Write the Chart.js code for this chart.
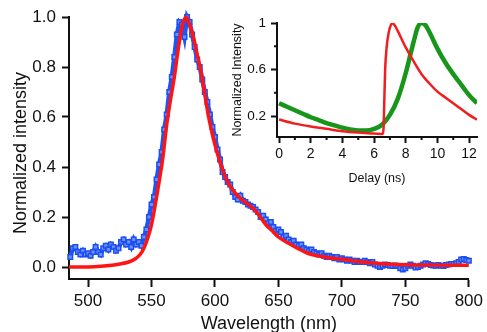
<!DOCTYPE html>
<html>
<head>
<meta charset="utf-8">
<script src="https://cdn.jsdelivr.net/npm/chart.js@4.4.1/dist/chart.umd.min.js"></script>
<style>
  html, body { margin: 0; padding: 0; background: #fff; }
  body { width: 487px; height: 332px; overflow: hidden; position: relative; }
  #mainWrap { position: absolute; left: 0; top: 0; width: 487px; height: 340px; }
  #insetWrap { position: absolute; left: 228px; top: 0; width: 259px; height: 200px; }
</style>
</head>
<body>
<div id="mainWrap"><canvas id="spectrum"></canvas></div>
<div id="insetWrap"><canvas id="decay"></canvas></div>
<script>
// Emission spectrum: measured points every 2 nm starting at 486 nm
const measuredStartNm = 486;
const measuredStepNm = 2;
const measuredIntensity = [
  0.04, 0.075, 0.08, 0.06, 0.05, 0.065, 0.05, 0.055, 0.045, 0.06,
  0.08, 0.06, 0.05, 0.075, 0.085, 0.07, 0.09, 0.08, 0.065, 0.075,
  0.10, 0.11, 0.09, 0.10, 0.08, 0.11, 0.09, 0.10, 0.085, 0.12,
  0.15, 0.20, 0.25, 0.28, 0.35, 0.41, 0.46, 0.55, 0.61, 0.70,
  0.76, 0.84, 0.93, 0.98, 0.97, 0.92, 1.00, 0.98, 0.93, 0.88,
  0.83, 0.80, 0.75, 0.70, 0.66, 0.61, 0.56, 0.52, 0.47, 0.43,
  0.38, 0.36, 0.34, 0.33, 0.30, 0.28, 0.27, 0.285, 0.265, 0.26,
  0.25, 0.245, 0.24, 0.23, 0.22, 0.20, 0.205, 0.19, 0.175, 0.18,
  0.16, 0.145, 0.15, 0.14, 0.12, 0.125, 0.11, 0.10, 0.105, 0.09,
  0.085, 0.09, 0.075, 0.07, 0.065, 0.07, 0.06, 0.055, 0.05, 0.055,
  0.045, 0.04, 0.045, 0.04, 0.035, 0.04, 0.03, 0.035, 0.03, 0.025,
  0.03, 0.025, 0.02, 0.025, 0.02, 0.02, 0.025, 0.02, 0.015, 0.02,
  0.01, 0.005, 0.0, 0.005, 0.01, 0.008, 0.005, 0.004, 0.006, 0.004,
  -0.005, -0.01, -0.005, 0.005, 0.01, 0.005, -0.002, 0.0, 0.005, 0.01,
  0.015, 0.012, 0.008, 0.006, 0.005, 0.008, 0.005, 0.004, 0.008, 0.01,
  0.012, 0.012, 0.015, 0.02, 0.03, 0.032, 0.028, 0.025
];

// Fitted spectrum (red)
const fitNm = [
  485, 495, 505, 515, 525, 532, 537, 541, 544, 547, 550, 553, 556, 559, 562,
  565, 568, 571, 574, 577, 580, 583, 586, 589, 592, 595, 598, 601, 604, 607,
  610, 613, 616, 620, 625, 630, 635, 640, 645, 650, 658, 665, 673, 680, 690,
  702, 710, 720, 730, 740, 750, 760, 770, 780, 790, 800
];
const fitIntensity = [
  0.0, 0.0, 0.001, 0.005, 0.012, 0.02, 0.032, 0.05, 0.075, 0.115, 0.17, 0.25, 0.34, 0.44, 0.57,
  0.67, 0.76, 0.87, 0.96, 1.0, 0.97, 0.92, 0.85, 0.78, 0.69, 0.6, 0.53, 0.47, 0.42, 0.375,
  0.34, 0.315, 0.295, 0.275, 0.255, 0.235, 0.205, 0.17, 0.145, 0.12, 0.095, 0.075, 0.055, 0.046, 0.037,
  0.03, 0.024, 0.018, 0.014, 0.011, 0.009, 0.008, 0.008, 0.007, 0.007, 0.007
];

const wavelengthTicks = [500, 550, 600, 650, 700, 750, 800];
const intensityTicks = [0, 0.2, 0.4, 0.6, 0.8, 1.0];

// Time-resolved decay (inset)
const greenDelay = [0, 0.5, 1, 1.5, 2, 2.5, 3, 3.5, 4, 4.5, 5, 5.5, 6, 6.5, 7, 7.5, 8, 8.5, 8.75, 9, 9.25, 9.5, 10, 10.5, 11, 11.5, 12, 12.5];
const greenIntensity = [0.31, 0.28, 0.25, 0.22, 0.19, 0.165, 0.14, 0.12, 0.1, 0.085, 0.075, 0.075, 0.09, 0.125, 0.21, 0.35, 0.57, 0.84, 0.96, 1.0, 0.98, 0.92, 0.78, 0.66, 0.56, 0.47, 0.38, 0.31];
const redDelay = [0, 1, 2, 3, 4, 5, 6, 6.55, 6.6, 6.65, 6.7, 6.8, 6.9, 7.0, 7.15, 7.3, 7.5, 8, 8.5, 9, 9.5, 10, 10.5, 11, 11.5, 12, 12.5];
const redIntensity = [0.17, 0.135, 0.11, 0.09, 0.07, 0.058, 0.05, 0.045, 0.1, 0.35, 0.6, 0.8, 0.9, 0.96, 1.0, 0.98, 0.93, 0.79, 0.67, 0.56, 0.48, 0.41, 0.36, 0.31, 0.26, 0.21, 0.17];

const delayTicks = [0, 2, 4, 6, 8, 10, 12];
const delayMinorTicks = [1, 3, 5, 7, 9, 11];
const insetTicks = [0.2, 0.6, 1.0];
const insetMinorTicks = [0.4, 0.8];

const FONT = '"Liberation Sans", Arial, sans-serif';
const INK = '#111';

const toPoints = (xs, ys) => ys.map((y, i) => ({ x: xs[i], y }));
const measuredPoints = measuredIntensity.map((y, i) => ({ x: measuredStartNm + i * measuredStepNm, y }));

// short ticks between the labelled ones
const minorTicks = {
  id: 'minorTicks',
  afterDraw(chart, args, opts) {
    const { ctx } = chart;
    const xs = chart.scales.x, ys = chart.scales.y;
    ctx.save();
    ctx.strokeStyle = opts.color;
    ctx.lineWidth = opts.width;
    (opts.x || []).forEach(v => {
      const px = xs.getPixelForValue(v);
      ctx.beginPath(); ctx.moveTo(px, xs.top); ctx.lineTo(px, xs.top + opts.length); ctx.stroke();
    });
    (opts.y || []).forEach(v => {
      const py = ys.getPixelForValue(v);
      ctx.beginPath(); ctx.moveTo(ys.right, py); ctx.lineTo(ys.right - opts.length, py); ctx.stroke();
    });
    ctx.restore();
  }
};

new Chart(document.getElementById('spectrum'), {
  type: 'line',
  data: {
    datasets: [
      {
        label: 'Fit',
        data: toPoints(fitNm, fitIntensity),
        borderColor: '#ff1414',
        borderWidth: 3.5,
        pointRadius: 0,
        cubicInterpolationMode: 'monotone',
        clip: false,
        order: 0
      },
      {
        label: 'Measured',
        data: measuredPoints,
        borderColor: '#1e55f5',
        borderWidth: 4.5,
        pointStyle: 'rect',
        pointRadius: 3.2,
        pointBorderWidth: 1.5,
        pointBorderColor: '#1c4ef2',
        pointBackgroundColor: '#6c92fb',
        clip: false,
        order: 1
      }
    ]
  },
  options: {
    responsive: true,
    maintainAspectRatio: false,
    animation: false,
    events: [],
    layout: { padding: { top: 17, right: 15, left: 0, bottom: 0 } },
    plugins: { legend: { display: false }, tooltip: { enabled: false } },
    scales: {
      x: {
        type: 'linear',
        min: 485,
        max: 800,
        afterBuildTicks: s => { s.ticks = wavelengthTicks.map(value => ({ value })); },
        afterFit: s => { s.height = 61; },
        ticks: { color: INK, font: { family: FONT, size: 17 }, padding: 4, maxRotation: 0 },
        grid: { drawOnChartArea: false, tickLength: 8, tickWidth: 2, tickColor: INK },
        border: { color: INK, width: 2 },
        title: { display: true, text: 'Wavelength (nm)', color: INK, font: { family: FONT, size: 18 }, padding: { top: 0, bottom: 5 } }
      },
      y: {
        min: -0.048,
        max: 1.0,
        afterBuildTicks: s => { s.ticks = intensityTicks.map(value => ({ value })); },
        afterFit: s => { s.width = 69; },
        ticks: { color: INK, font: { family: FONT, size: 17 }, padding: 6, callback: v => v.toFixed(1) },
        grid: { drawOnChartArea: false, tickLength: 7, tickWidth: 2, tickColor: INK },
        border: { color: INK, width: 2 },
        title: { display: true, text: 'Normalized intensity  ', color: INK, font: { family: FONT, size: 18 }, padding: { top: 10, bottom: 0 } }
      }
    }
  }
});

new Chart(document.getElementById('decay'), {
  type: 'line',
  data: {
    datasets: [
      {
        label: 'Red',
        data: toPoints(redDelay, redIntensity),
        borderColor: '#f01e1e',
        borderWidth: 2.5,
        pointRadius: 0,
        cubicInterpolationMode: 'monotone',
        order: 0
      },
      {
        label: 'Green',
        data: toPoints(greenDelay, greenIntensity),
        borderColor: '#18961c',
        borderWidth: 4.5,
        pointRadius: 0,
        cubicInterpolationMode: 'monotone',
        order: 1
      }
    ]
  },
  plugins: [minorTicks],
  options: {
    responsive: true,
    maintainAspectRatio: false,
    animation: false,
    events: [],
    layout: { padding: { top: 23, right: 10, left: 0, bottom: 0 } },
    plugins: {
      legend: { display: false },
      tooltip: { enabled: false },
      minorTicks: { x: delayMinorTicks, y: insetMinorTicks, length: 3, width: 2, color: INK }
    },
    scales: {
      x: {
        type: 'linear',
        min: -0.13,
        max: 12.5,
        afterBuildTicks: s => { s.ticks = delayTicks.map(value => ({ value })); },
        afterFit: s => { s.height = 63; },
        ticks: { color: INK, font: { family: FONT, size: 14 }, padding: 3, maxRotation: 0 },
        grid: { drawOnChartArea: false, tickLength: 6, tickWidth: 2, tickColor: INK },
        border: { color: INK, width: 2 },
        title: { display: true, text: 'Delay (ns)', color: INK, font: { family: FONT, size: 12.5 }, padding: { top: 0, bottom: 14 } }
      },
      y: {
        min: 0.02,
        max: 1.0,
        afterBuildTicks: s => { s.ticks = insetTicks.map(value => ({ value })); },
        afterFit: s => { s.width = 49; },
        ticks: { color: INK, font: { family: FONT, size: 13.5 }, padding: 5, callback: v => (v === 1 ? '1' : v.toFixed(1)) },
        grid: { drawOnChartArea: false, tickLength: 6, tickWidth: 2, tickColor: INK },
        border: { color: INK, width: 2 },
        title: { display: true, text: 'Normalized Intensity', color: INK, font: { family: FONT, size: 12.5 }, padding: { top: 2, bottom: 0 } }
      }
    }
  }
});
</script>
</body>
</html>
